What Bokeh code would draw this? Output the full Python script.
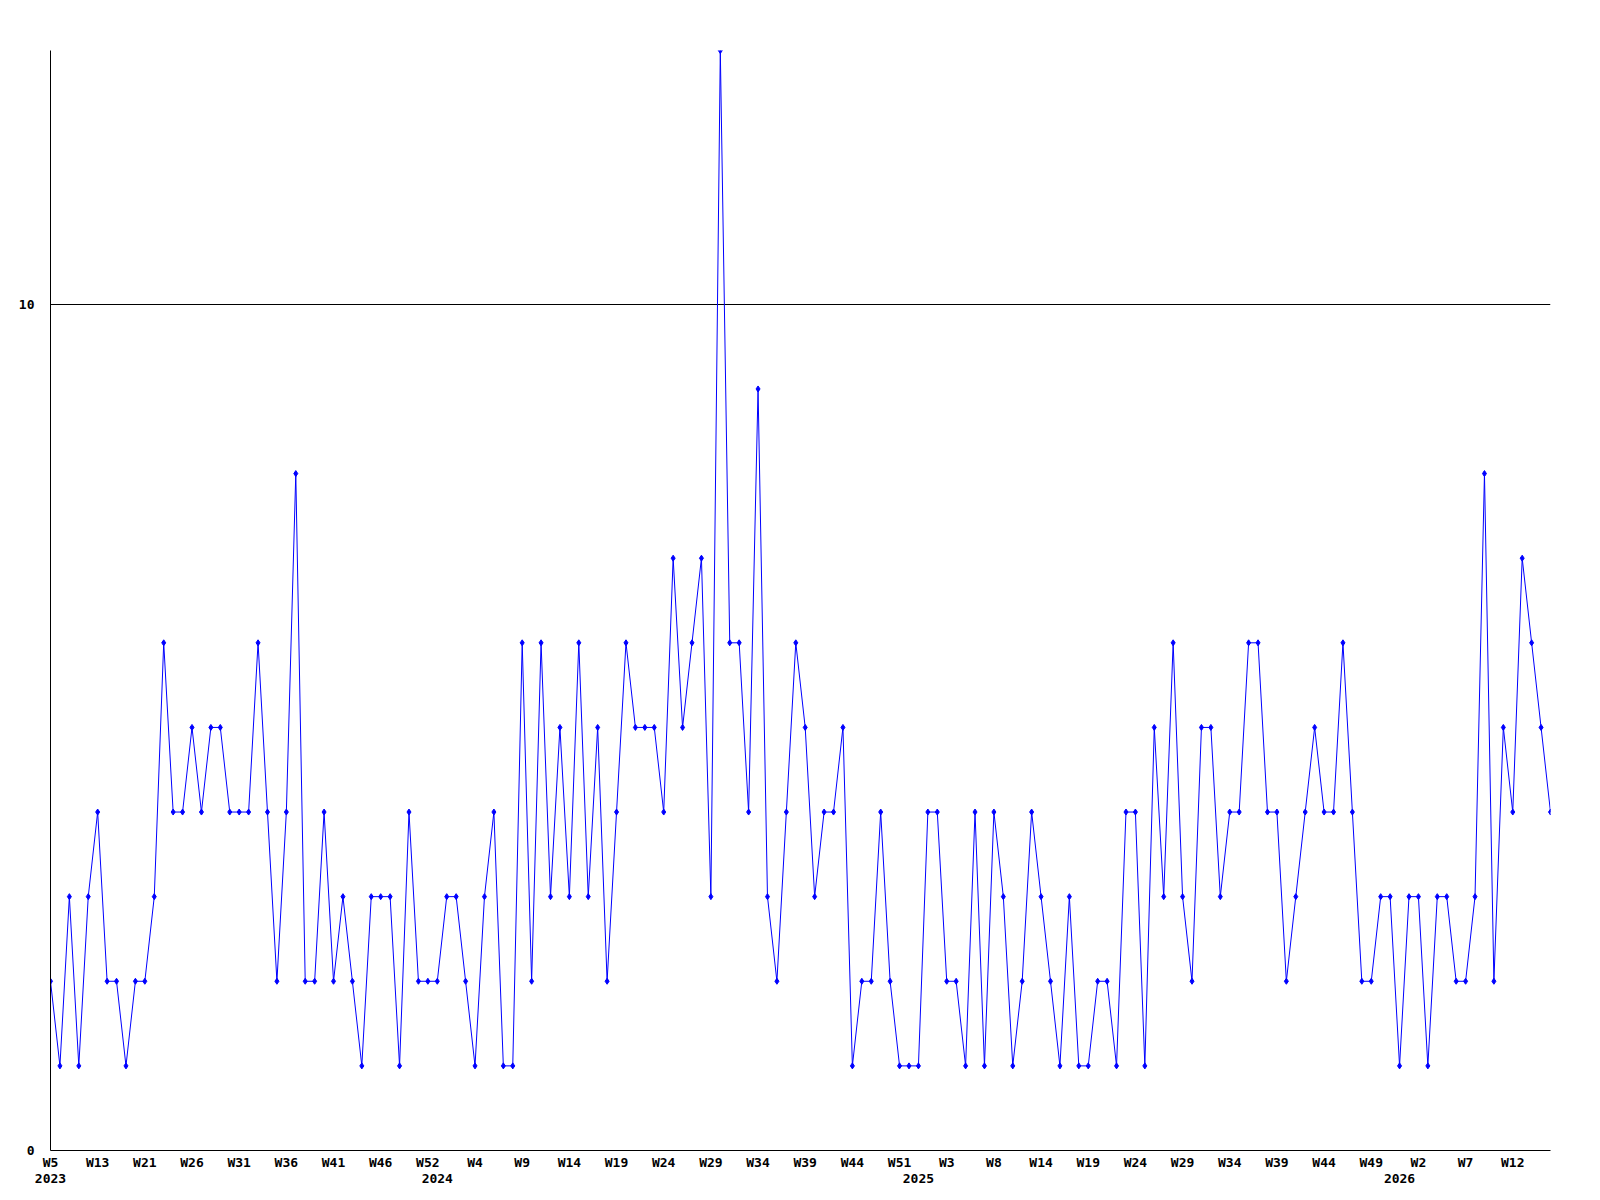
from bokeh.plotting import figure
from bokeh.models import ColumnDataSource, Range1d, FixedTicker, LinearAxis
from bokeh.embed import file_html
from bokeh.resources import INLINE

# weekly counts, one entry per data point (categorical index)
values = [
    2, 1, 3, 1, 3, 4, 2, 2, 1, 2,
    2, 3, 6, 4, 4, 5, 4, 5, 5, 4,
    4, 4, 6, 4, 2, 4, 8, 2, 2, 4,
    2, 3, 2, 1, 3, 3, 3, 1, 4, 2,
    2, 2, 3, 3, 2, 1, 3, 4, 1, 1,
    6, 2, 6, 3, 5, 3, 6, 3, 5, 2,
    4, 6, 5, 5, 5, 4, 7, 5, 6, 7,
    3, 13, 6, 6, 4, 9, 3, 2, 4, 6,
    5, 3, 4, 4, 5, 1, 2, 2, 4, 2,
    1, 1, 1, 4, 4, 2, 2, 1, 4, 1,
    4, 3, 1, 2, 4, 3, 2, 1, 3, 1,
    1, 2, 2, 1, 4, 4, 1, 5, 3, 6,
    3, 2, 5, 5, 3, 4, 4, 6, 6, 4,
    4, 2, 3, 4, 5, 4, 4, 6, 4, 2,
    2, 3, 3, 1, 3, 3, 1, 3, 3, 2,
    2, 3, 8, 2, 5, 4, 7, 6, 5, 4,
]

week_labels = ["W5", "W13", "W21", "W26", "W31", "W36", "W41", "W46", "W52",
               "W4", "W9", "W14", "W19", "W24", "W29", "W34", "W39", "W44", "W51",
               "W3", "W8", "W14", "W19", "W24", "W29", "W34", "W39", "W44", "W49",
               "W2", "W7", "W12"]
week_label_step = 5

year_labels = ["2023", "2024", "2025", "2026"]
year_positions = [0, 41, 92, 143]

y_ticks = [0, 10]

idx = list(range(len(values)))
src = ColumnDataSource(dict(x=idx, y=values))

FONT = "DejaVu Sans Mono"
FSIZE = "13px"

p = figure(
    width=1568, height=1193,
    frame_width=1500, frame_height=1100,
    min_border_left=50, min_border_top=50, min_border_right=18, min_border_bottom=43,
    x_range=Range1d(0, len(values) - 1), y_range=Range1d(0, 13),
    output_backend="svg", toolbar_location=None,
)
p.outline_line_color = None
p.background_fill_color = "white"
p.border_fill_color = "white"

# grid: only the line at 10
p.xgrid.visible = False
p.ygrid.ticker = FixedTicker(ticks=[10])
p.ygrid.grid_line_color = "black"
p.ygrid.grid_line_width = 1

# y axis
p.yaxis.ticker = FixedTicker(ticks=y_ticks)
p.yaxis.axis_line_color = "black"
p.yaxis.major_tick_line_color = None
p.yaxis.minor_tick_line_color = None
p.yaxis.major_tick_out = 0
p.yaxis.major_tick_in = 0
p.yaxis.major_label_standoff = 16
p.yaxis.major_label_text_font = FONT
p.yaxis.major_label_text_font_style = "bold"
p.yaxis.major_label_text_font_size = FSIZE
p.yaxis.major_label_text_color = "black"

# x axis (week labels)
week_ticks = [i * week_label_step for i in range(len(week_labels))]
xa = p.xaxis[0]
xa.ticker = FixedTicker(ticks=week_ticks)
xa.major_label_overrides = {t: lab for t, lab in zip(week_ticks, week_labels)}
xa.axis_line_color = "black"
xa.major_tick_line_color = None
xa.minor_tick_line_color = None
xa.major_tick_out = 0
xa.major_tick_in = 0
xa.major_label_standoff = 4
xa.major_label_text_font = FONT
xa.major_label_text_font_style = "bold"
xa.major_label_text_font_size = FSIZE
xa.major_label_text_color = "black"

# second x axis (years)
ya = LinearAxis(ticker=FixedTicker(ticks=year_positions))
ya.major_label_overrides = {t: lab for t, lab in zip(year_positions, year_labels)}
ya.axis_line_color = None
ya.major_tick_line_color = None
ya.minor_tick_line_color = None
ya.major_tick_out = 0
ya.major_tick_in = 0
ya.major_label_standoff = 1
ya.major_label_text_font = FONT
ya.major_label_text_font_style = "bold"
ya.major_label_text_font_size = FSIZE
ya.major_label_text_color = "black"
p.add_layout(ya, "below")

p.line("x", "y", source=src, line_color="#0000ff", line_width=1)
p.scatter("x", "y", source=src, marker="diamond", size=6,
          fill_color="#0000ff", line_color="#0000ff")

open("out.html", "w").write(file_html(p, INLINE))
